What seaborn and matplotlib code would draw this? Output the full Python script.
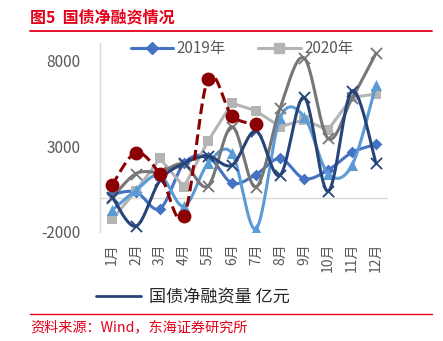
import numpy as np
import pandas as pd
import matplotlib
matplotlib.use("Agg")
import matplotlib.pyplot as plt
from matplotlib.lines import Line2D
import seaborn as sns

sns.set_theme(style="white")
plt.rcParams['font.family'] = ['Noto Sans CJK SC', 'DejaVu Sans']

months = [f"{i}月" for i in range(1, 13)]

# 国债净融资量（亿元）
s2019 = [200, 330, -640, 1990, 2380, 850, 1345, 2280, 1110, 1600, 2630, 3100]
s2020 = [-1270, 400, 2280, 620, 3290, 5500, 5050, 4130, 4520, 3940, 5830, 6030]
s2021 = [-740, 430, 1300, -500, 1990, 2575, -1810, 4620, 4720, 1400, 1890, 6570]
s2022 = [0, 1400, 1500, 1950, 680, 4130, 620, 5200, 8130, 3450, 5770, 8400]
s2023 = [50, -1660, 1000, 1990, 2420, 1890, 3880, 1300, 5840, 370, 6220, 1990]
s2024 = [720, 2610, 1360, -1090, 6920, 4760, 4270]

series = [
    # data, color, marker, marker size, smooth, dashed
    (s2019, "#4472C4", "D", 6, True, False),
    (s2020, "#B4B4B4", "s", 7, False, False),
    (s2021, "#5B9BD5", "^", 8, True, False),
    (s2022, "#767676", "x", 8, True, False),
    (s2023, "#264478", "x", 8, True, False),
    (s2024, "#8B0000", "o", 10, True, True),
]


def smooth_curve(vals, n=30):
    """Bezier smoothing through every point (Catmull-Rom style)."""
    p = np.column_stack([np.arange(len(vals), dtype=float), np.asarray(vals, float)])
    pts = []
    for i in range(len(p) - 1):
        p0 = p[max(i - 1, 0)]
        p1 = p[i]
        p2 = p[i + 1]
        p3 = p[min(i + 2, len(p) - 1)]
        b1 = p1 + (p2 - p0) / 6.0
        b2 = p2 - (p3 - p1) / 6.0
        t = np.linspace(0, 1, n, endpoint=(i == len(p) - 2))[:, None]
        seg = ((1 - t) ** 3) * p1 + 3 * ((1 - t) ** 2) * t * b1 + 3 * (1 - t) * t ** 2 * b2 + t ** 3 * p2
        pts.append(seg)
    pts = np.vstack(pts)
    return pts[:, 0], pts[:, 1]


fig = plt.figure(figsize=(4.43, 3.41), dpi=100)
ax = fig.add_axes([100 / 443, 1 - 232 / 341, 288 / 443, 189 / 341])

ax.axhline(0, color="#D9D9D9", lw=1.0, zorder=1)

for z, (vals, color, mk, ms, smooth, dashed) in enumerate(series):
    if smooth:
        cx, cy = smooth_curve(vals)
    else:
        cx, cy = np.arange(len(vals), dtype=float), np.asarray(vals, float)
    curve = pd.DataFrame({"x": cx, "y": cy})
    sns.lineplot(data=curve, x="x", y="y", ax=ax, color=color, lw=2.2,
                 linestyle=(0, (3.5, 1.6)) if dashed else "-", sort=False,
                 estimator=None, zorder=3 + z)
    pts = pd.DataFrame({"x": np.arange(len(vals)), "y": vals})
    if mk == "x":
        sns.scatterplot(data=pts, x="x", y="y", ax=ax, marker="x", s=ms ** 2,
                        color=color, linewidth=1.3, zorder=3.5 + z)
    else:
        sns.scatterplot(data=pts, x="x", y="y", ax=ax, marker=mk, s=ms ** 2,
                        color=color, edgecolor=color, linewidth=0, zorder=3.5 + z)

ax.set_xlim(-0.5, 11.5)
ax.set_ylim(-2000, 9000)
ax.set_yticks([-2000, 3000, 8000])
ax.set_yticklabels(["-2000", "3000", "8000"], fontsize=11, color="#595959")
ax.set_xticks(range(12))
ax.set_xticklabels(months, rotation=90, fontsize=10, color="#595959",
                   va="top", ha="center")
ax.tick_params(axis="y", length=0, pad=14)
ax.tick_params(axis="x", length=0, pad=8)
ax.set_xlabel("")
ax.set_ylabel("")
for side in ["top", "right", "bottom"]:
    ax.spines[side].set_visible(False)
ax.spines["left"].set_color("#D9D9D9")
ax.spines["left"].set_linewidth(1.0)

# year legend along the top of the plot
handles = [
    Line2D([0], [0], color="#4472C4", lw=2.2, marker="D", markersize=6),
    Line2D([0], [0], color="#B4B4B4", lw=2.2, marker="s", markersize=7),
]
leg = ax.legend(handles, ["2019年", "2020年"], ncol=2, frameon=False,
                loc="center", bbox_to_anchor=(242 / 443, 1 - 49 / 341),
                bbox_transform=fig.transFigure, fontsize=11, handlelength=2.75,
                columnspacing=2.15, handletextpad=0.26)
for t in leg.get_texts():
    t.set_color("#595959")

# series legend below the axis labels
fig.legend([Line2D([0], [0], color="#264478", lw=2.0)], ["国债净融资量 亿元"],
           loc="center left", bbox_to_anchor=(81 / 443, 1 - 297 / 341),
           frameon=False, fontsize=12.3, handlelength=2.6, handletextpad=0.5)

red = "#E3001B"
fig.text(30 / 443, 1 - 17 / 341, "图5  国债净融资情况", color=red, fontsize=11.5,
         fontweight="bold", va="center", ha="left")
fig.add_artist(Line2D([30 / 443, 432 / 443], [1 - 31 / 341, 1 - 31 / 341],
                      color=red, lw=1.3, transform=fig.transFigure))
fig.add_artist(Line2D([30 / 443, 432 / 443], [1 - 314 / 341, 1 - 314 / 341],
                      color=red, lw=1.0, transform=fig.transFigure))
fig.text(30 / 443, 1 - 327 / 341, "资料来源：Wind，东海证券研究所", color=red,
         fontsize=10.2, va="center", ha="left")

fig.savefig("out.png", dpi=100)
